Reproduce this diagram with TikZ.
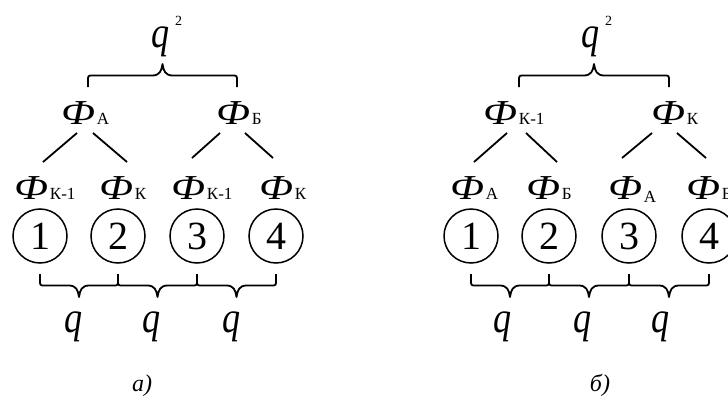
\documentclass[tikz,border=0pt]{standalone}
\usepackage{fontspec}
\setmainfont{Liberation Serif}

\tikzset{
  phi/.style={anchor=base west, inner sep=0pt},
  num/.style={circle, draw, line width=1.5pt, minimum size=54pt, inner sep=0pt,
              font=\fontsize{40}{40}\selectfont},
  link/.style={line width=1.8pt},
  brc/.style={line width=1.8pt, line join=round},
  qlab/.style={anchor=base, inner sep=0pt, font=\fontsize{44}{44}\selectfont\itshape},
  qsq/.style={anchor=base west, inner sep=0pt, font=\fontsize{44}{44}\selectfont\itshape},
  panellabel/.style={anchor=base, inner sep=0pt, font=\fontsize{24}{24}\selectfont\itshape},
}

% italic Ef with an upright index set on the baseline
\newcommand\ef[1]{{\fontsize{35}{35}\selectfont\itshape\scalebox{1.2}[1]{Ф}}\hspace{2pt}{\fontsize{17}{17}\selectfont #1}}
% narrow italic q
\newcommand\qq{\scalebox{0.82}[1]{q}}
% q squared
\newcommand\qsquared{\qq\hspace{6pt}\raisebox{22pt}{\fontsize{14}{14}\selectfont\upshape 2}}

% horizontal curly brace between x=#1 and x=#2, ends at y=#3,
% #4 = 1 for a brace opening down, -1 for one opening up
\newcommand\curly[4]{%
  \draw[brc] (#1,#3) -- ({#1},{#3+6*#4})
    .. controls ({#1},{#3+11.5*#4}) .. ({#1+5},{#3+11.5*#4})
    -- ({(#1+#2)/2-10},{#3+11.5*#4})
    .. controls ({(#1+#2)/2-3},{#3+11.5*#4}) and ({(#1+#2)/2-1},{#3+16*#4}) .. ({(#1+#2)/2},{#3+23*#4})
    .. controls ({(#1+#2)/2+1},{#3+16*#4}) and ({(#1+#2)/2+3},{#3+11.5*#4}) .. ({(#1+#2)/2+10},{#3+11.5*#4})
    -- ({#2-5},{#3+11.5*#4})
    .. controls ({#2},{#3+11.5*#4}) .. ({#2},{#3+6*#4}) -- (#2,#3);}

\begin{document}
\begin{tikzpicture}[x=1pt,y=-1pt]
  \clip (0,0) rectangle (728,399);
  \fill[white] (0,0) rectangle (728,399);

  % ---------- panel a ----------
  \node[qsq] (aq) at (151,47) {\qsquared};
  \curly{88}{237}{87}{-1}

  \node[phi] (aA) at (61,124) {\ef{А}};
  \node[phi] (aB) at (216,124) {\ef{Б}};

  \node[phi] (a1) at (14,199) {\ef{К-1}};
  \node[phi] (a2) at (99,199) {\ef{К}};
  \node[phi] (a3) at (171,199) {\ef{К-1}};
  \node[phi] (a4) at (259,199) {\ef{К}};

  \coordinate (aA-l) at (77,133);  \coordinate (a1-t) at (43,162);
  \coordinate (aA-r) at (93,133);  \coordinate (a2-t) at (127,162);
  \coordinate (aB-l) at (220,133); \coordinate (a3-t) at (192,158);
  \coordinate (aB-r) at (245,133); \coordinate (a4-t) at (273,158);
  \draw[link] (aA-l) -- (a1-t);
  \draw[link] (aA-r) -- (a2-t);
  \draw[link] (aB-l) -- (a3-t);
  \draw[link] (aB-r) -- (a4-t);

  \node[num] (ac1) at (40,236) {1};
  \node[num] (ac2) at (118,236) {2};
  \node[num] (ac3) at (197,236) {3};
  \node[num] (ac4) at (276,236) {4};

  \curly{40}{118}{274}{1}
  \curly{118}{197}{274}{1}
  \curly{197}{276}{274}{1}

  \node[qlab] (aq1) at (74,332) {\qq};
  \node[qlab] (aq2) at (152,332) {\qq};
  \node[qlab] (aq3) at (232,332) {\qq};

  \node[panellabel] (acap) at (142,391) {а)};

  % ---------- panel b ----------
  \node[qsq] (bq) at (581,47) {\qsquared};
  \curly{519}{669}{87}{-1}

  \node[phi] (bA) at (483,124) {\ef{К-1}};
  \node[phi] (bB) at (651,124) {\ef{К}};

  \node[phi] (b1) at (450,199) {\ef{А}};
  \node[phi] (b2) at (526,199) {\ef{Б}};
  \node[phi] (b3) at (608,199) {\ef{\raisebox{-3pt}{А}}};
  \node[phi] (b4) at (686,199) {\ef{Б}};

  \coordinate (bA-l) at (507,133); \coordinate (b1-t) at (474,162);
  \coordinate (bA-r) at (526,133); \coordinate (b2-t) at (557,162);
  \coordinate (bB-l) at (652,133); \coordinate (b3-t) at (622,158);
  \coordinate (bB-r) at (677,133); \coordinate (b4-t) at (706,158);
  \draw[link] (bA-l) -- (b1-t);
  \draw[link] (bA-r) -- (b2-t);
  \draw[link] (bB-l) -- (b3-t);
  \draw[link] (bB-r) -- (b4-t);

  \node[num] (bc1) at (471,236) {1};
  \node[num] (bc2) at (549,236) {2};
  \node[num] (bc3) at (629,236) {3};
  \node[num] (bc4) at (709,236) {4};

  \curly{471}{549}{274}{1}
  \curly{549}{629}{274}{1}
  \curly{629}{709}{274}{1}

  \node[qlab] (bq1) at (503,332) {\qq};
  \node[qlab] (bq2) at (583,332) {\qq};
  \node[qlab] (bq3) at (661,332) {\qq};

  \node[panellabel] (bcap) at (600,391) {б)};
\end{tikzpicture}
\end{document}
